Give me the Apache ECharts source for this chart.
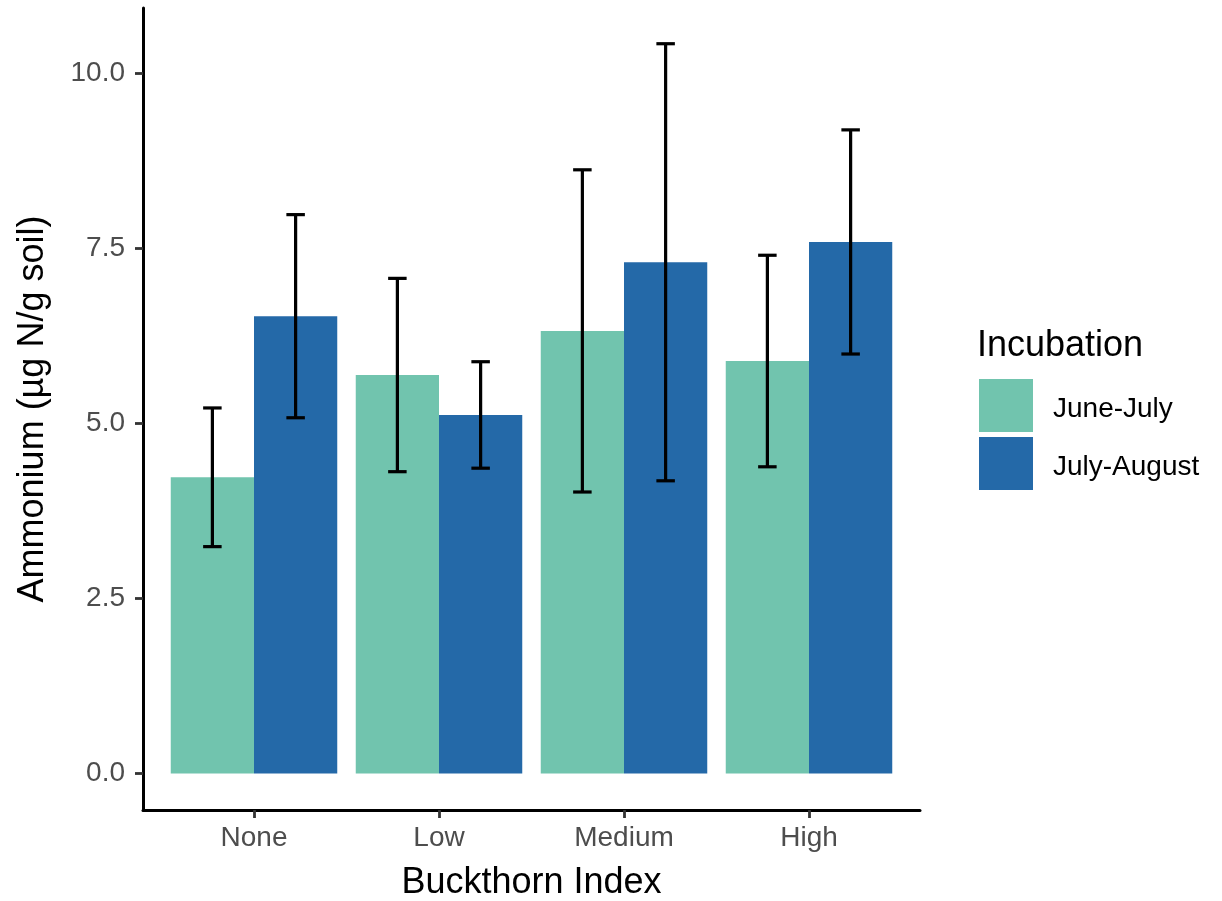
<!DOCTYPE html>
<html>
<head>
<meta charset="utf-8">
<script src="https://cdn.jsdelivr.net/npm/echarts@6/dist/echarts.min.js"></script>
<style>
  html, body { margin: 0; padding: 0; background: #fff; }
  #chart { width: 1222px; height: 901px; }
</style>
</head>
<body>
<div id="chart"></div>
<script>
// ---- data ----
const categories = ['None', 'Low', 'Medium', 'High'];
const seriesNames = ['June-July', 'July-August'];
const juneJuly = [4.23, 5.69, 6.32, 5.89];
const juneJulyErr = [0.99, 1.38, 2.30, 1.51];
const julyAugust = [6.53, 5.12, 7.30, 7.59];
const julyAugustErr = [1.45, 0.76, 3.12, 1.60];
const yTicks = [0, 2.5, 5, 7.5, 10];

const FONT = '"Liberation Sans", Arial, Helvetica, sans-serif';
const colors = ['#71c4ae', '#2469a8'];
const dodge = 0.9;
const barW = dodge / 2;
const capHalf = 0.05;

const chart = echarts.init(document.getElementById('chart'), null, { renderer: 'canvas' });

function barRender(offset) {
  return function (params, api) {
    const x = api.value(0), v = api.value(1);
    const p0 = api.coord([x + offset, v]);
    const p1 = api.coord([x + offset + barW, 0]);
    return {
      type: 'rect',
      shape: { x: p0[0], y: p0[1], width: p1[0] - p0[0], height: p1[1] - p0[1] },
      style: { fill: api.visual('color') }
    };
  };
}

function errRender(params, api) {
  const x = api.value(0), lo = api.value(1), hi = api.value(2);
  const pLo = api.coord([x, lo]);
  const pHi = api.coord([x, hi]);
  const c1 = api.coord([x - capHalf, lo]);
  const c2 = api.coord([x + capHalf, lo]);
  const style = { stroke: '#000', lineWidth: 3.2 };
  return {
    type: 'group',
    children: [
      { type: 'line', shape: { x1: pLo[0], y1: pLo[1], x2: pHi[0], y2: pHi[1] }, style },
      { type: 'line', shape: { x1: c1[0], y1: pLo[1], x2: c2[0], y2: pLo[1] }, style },
      { type: 'line', shape: { x1: c1[0], y1: pHi[1], x2: c2[0], y2: pHi[1] }, style }
    ]
  };
}

const offsets = [-barW, 0];
const errData = [];
[juneJuly, julyAugust].forEach((vals, s) => {
  const errs = s === 0 ? juneJulyErr : julyAugustErr;
  vals.forEach((v, i) => {
    const xc = i + 1 + offsets[s] + barW / 2;
    errData.push([xc, v - errs[i], v + errs[i]]);
  });
});

const option = {
  animation: false,
  backgroundColor: '#fff',
  textStyle: { fontFamily: FONT },
  grid: { left: 143, right: 302, top: 8, bottom: 91, containLabel: false },
  xAxis: {
    type: 'value',
    min: 0.4,
    max: 4.6,
    splitLine: { show: false },
    axisLine: { onZero: false, lineStyle: { color: '#000', width: 3 } },
    axisTick: { customValues: [1, 2, 3, 4], length: 8, lineStyle: { color: '#333', width: 2.8 } },
    axisLabel: {
      customValues: [1, 2, 3, 4],
      formatter: v => categories[Math.round(v) - 1],
      fontSize: 28, color: '#4d4d4d', margin: 14, fontFamily: FONT
    }
  },
  yAxis: {
    type: 'value',
    min: -0.52,
    max: 10.93,
    splitLine: { show: false },
    axisLine: { show: true, onZero: false, lineStyle: { color: '#000', width: 3 } },
    axisTick: { show: true, customValues: yTicks, length: 8, lineStyle: { color: '#333', width: 2.8 } },
    axisLabel: {
      customValues: yTicks,
      formatter: v => v.toFixed(1),
      fontSize: 28, color: '#4d4d4d', margin: 18, fontFamily: FONT
    }
  },
  legend: {
    orient: 'vertical',
    left: 979,
    top: 379,
    padding: 0,
    itemWidth: 54,
    itemHeight: 53,
    itemGap: 5,
    icon: 'rect',
    data: seriesNames,
    formatter: name => '{t|' + name + '}',
    textStyle: {
      fontSize: 28, color: '#000', fontFamily: FONT,
      rich: { t: { fontSize: 28, color: '#000', fontFamily: FONT, padding: [8, 0, 0, 15] } }
    }
  },
  graphic: [
    {
      type: 'text', left: 977, top: 328,
      style: { text: 'Incubation', font: '36px ' + FONT, fill: '#000' }
    },
    {
      type: 'text', x: 531.5, y: 883,
      style: { text: 'Buckthorn Index', font: '36px ' + FONT, fill: '#000', align: 'center', verticalAlign: 'middle' }
    },
    {
      type: 'text', x: 33, y: 409, rotation: Math.PI / 2,
      style: { text: 'Ammonium (\u00b5g N/g soil)', font: '36px ' + FONT, fill: '#000', align: 'center', verticalAlign: 'middle' }
    }
  ],
  series: [
    {
      name: seriesNames[0], type: 'custom', renderItem: barRender(offsets[0]),
      itemStyle: { color: colors[0] }, data: juneJuly.map((v, i) => [i + 1, v]), z: 2
    },
    {
      name: seriesNames[1], type: 'custom', renderItem: barRender(offsets[1]),
      itemStyle: { color: colors[1] }, data: julyAugust.map((v, i) => [i + 1, v]), z: 2
    },
    {
      name: 'error', type: 'custom', renderItem: errRender, data: errData, z: 3, silent: true
    }
  ]
};
chart.setOption(option);
</script>
</body>
</html>
